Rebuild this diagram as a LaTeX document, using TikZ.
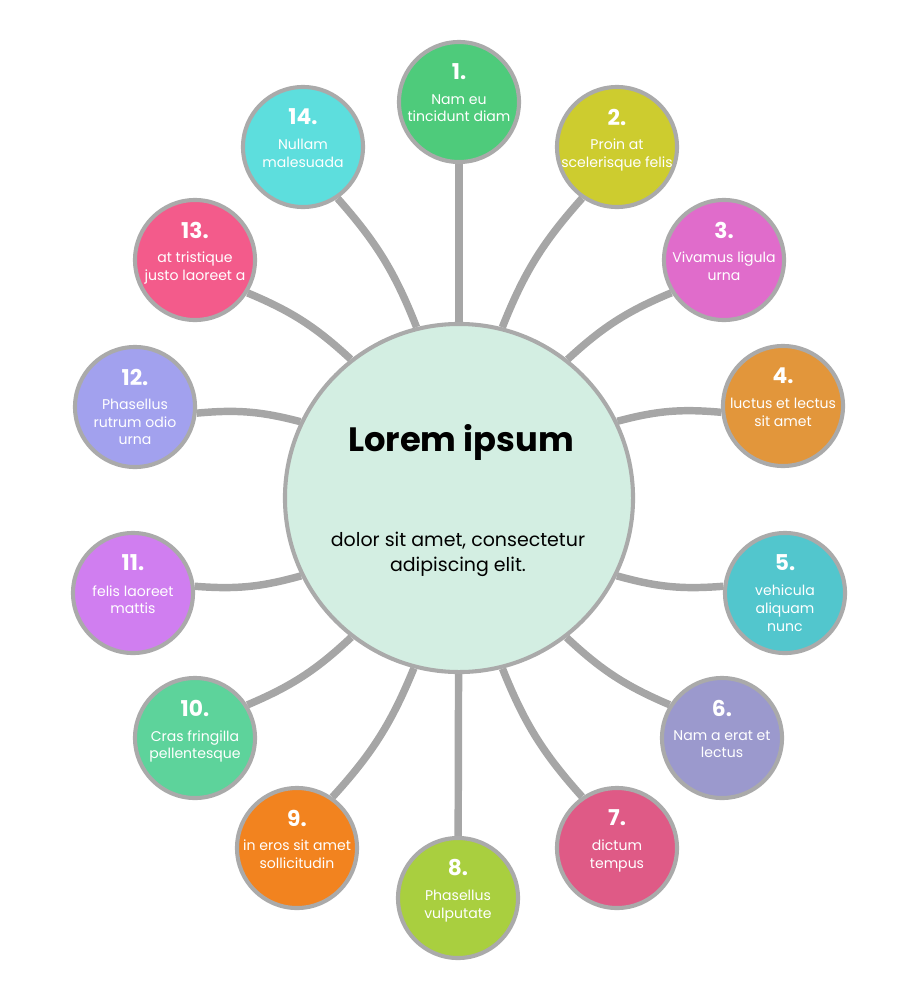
\documentclass[tikz,border=0pt]{standalone}
\usepackage{fontspec}
\setmainfont{Poppins}
\usetikzlibrary{calc}
\pgfdeclarelayer{background}
\pgfsetlayers{background,main}

\definecolor{rimgray}{HTML}{AAAAAA}
\definecolor{linkgray}{HTML}{A6A6A6}
\definecolor{hubfill}{HTML}{D3EEE2}
\definecolor{c1}{HTML}{4ECB7B}
\definecolor{c2}{HTML}{CDCC2F}
\definecolor{c3}{HTML}{E06CCB}
\definecolor{c4}{HTML}{E2963B}
\definecolor{c5}{HTML}{52C6CD}
\definecolor{c6}{HTML}{9B99CD}
\definecolor{c7}{HTML}{DF5A86}
\definecolor{c8}{HTML}{A9CF3F}
\definecolor{c9}{HTML}{F2831F}
\definecolor{c10}{HTML}{5DD39B}
\definecolor{c11}{HTML}{D07EF0}
\definecolor{c12}{HTML}{A2A1EE}
\definecolor{c13}{HTML}{F35B8B}
\definecolor{c14}{HTML}{5DDEDD}

\tikzset{
  hub/.style={circle, draw=rimgray, line width=2.9pt, fill=hubfill, minimum size=8.7cm, inner sep=0pt},
  hubtitle/.style={font=\fontsize{24}{28}\selectfont\bfseries, text=black, inner sep=0pt},
  hubtext/.style={font=\fontsize{13.5}{18}\selectfont, align=center, text=black, inner sep=0pt},
  spoke/.style={circle, draw=rimgray, line width=2.9pt, minimum size=3cm, inner sep=0pt},
  spokenum/.style={font=\fontsize{15.5}{18}\selectfont\bfseries, text=white, inner sep=0pt},
  spoketext/.style={font=\fontsize{10}{12.5}\selectfont, align=center, text=white, inner sep=0pt, anchor=north},
  link/.style={draw=linkgray, line width=5.3pt}
}

\begin{document}
\begin{tikzpicture}[x=0.025cm, y=-0.025cm]
  \useasboundingbox (0,0) rectangle (917,1000);
  % central circle
  \node[hub] (hub) at (459,498) {};
  \node[hubtitle] (title) at (461,442) {Lorem ipsum};
  \node[hubtext] (sub) at (458,554) {dolor sit amet, consectetur\\adipiscing elit.};
  % outer circles
  \foreach \i/\px/\py/\txt in {
      1/459/102/{Nam eu\\tincidunt diam},
      2/617/147/{Proin at\\scelerisque felis},
      3/724/260/{Vivamus ligula\\urna},
      4/783/406/{luctus et lectus\\sit amet},
      5/785/593/{vehicula\\aliquam\\nunc},
      6/722/738/{Nam a erat et\\lectus},
      7/617/848/{dictum\\tempus},
      8/458/898/{Phasellus\\vulputate},
      9/297/848/{in eros sit amet\\sollicitudin},
      10/195/738/{Cras fringilla\\pellentesque},
      11/133/593/{felis laoreet\\mattis},
      12/135/407/{Phasellus\\rutrum odio\\urna},
      13/195/260/{at tristique\\justo laoreet a},
      14/303/147/{Nullam\\malesuada}} {
    \node[spoke, fill=c\i] (s\i) at (\px,\py) {};
    \node[spokenum] (n\i) at ($(s\i)+(0,-30)$) {\i.};
    \node[spoketext] (t\i) at ($(s\i)+(0,-8)$) {\txt};
  }
  % connectors
  \begin{pgfonlayer}{background}
    \foreach \i/\b in {1/0, 2/10, 3/10, 4/10, 5/-10, 6/-10, 7/-10,
                       8/0, 9/10, 10/10, 11/10, 12/-10, 13/-10, 14/-10}
      \draw[link] (hub) to[bend left=\b] (s\i);
  \end{pgfonlayer}
\end{tikzpicture}
\end{document}
